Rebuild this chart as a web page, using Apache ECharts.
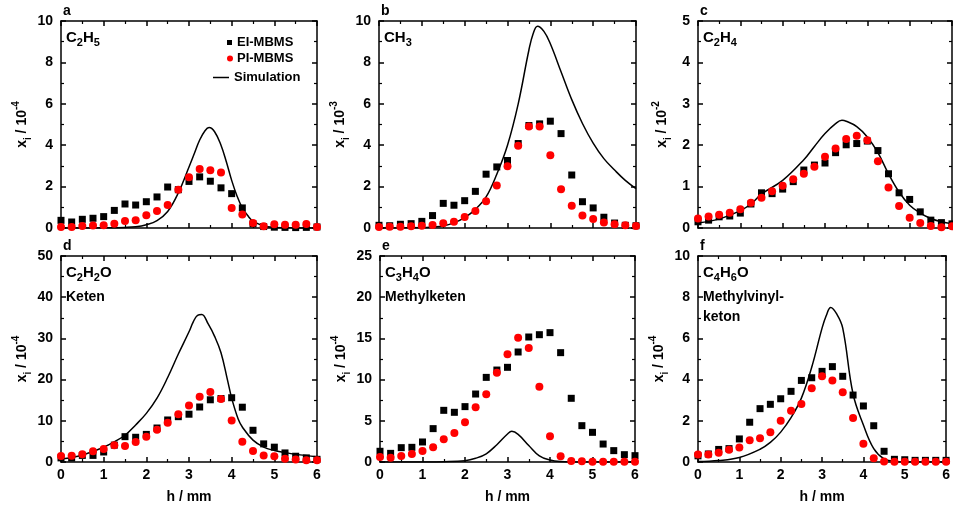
<!DOCTYPE html>
<html>
<head>
<meta charset="utf-8">
<script src="https://cdn.jsdelivr.net/npm/echarts@6/dist/echarts.min.js"></script>
<style>
  html, body { margin: 0; padding: 0; background: #fff; }
  #chart { width: 953px; height: 508px; }
</style>
</head>
<body>
<div id="chart"></div>
<script>
// Height above burner h / mm for the measured profiles
const hPos = [0, 0.25, 0.5, 0.75, 1, 1.25, 1.5, 1.75, 2, 2.25, 2.5, 2.75, 3,
              3.25, 3.5, 3.75, 4, 4.25, 4.5, 4.75, 5, 5.25, 5.5, 5.75, 6];

// C2H5 (x 1e-4)
const eiC2H5 = [0.37, 0.29, 0.42, 0.47, 0.55, 0.85, 1.16, 1.11, 1.27, 1.50, 1.98, 1.85, 2.25,
                2.47, 2.26, 1.94, 1.66, 0.97, 0.20, 0.07, 0.04, 0.03, 0.02, 0.03, 0.05];
const piC2H5 = [0.05, 0.05, 0.10, 0.12, 0.13, 0.21, 0.34, 0.37, 0.61, 0.82, 1.11, 1.85, 2.45,
                2.85, 2.79, 2.68, 0.97, 0.65, 0.24, 0.08, 0.18, 0.16, 0.16, 0.19, 0.05];
const simHC2H5 = [0, 0.5, 1, 1.5, 1.75, 2, 2.25, 2.5, 2.75, 3, 3.125, 3.25, 3.375, 3.47, 3.6,
                  3.75, 3.875, 4, 4.125, 4.25, 4.375, 4.5, 4.75, 5, 5.5, 6];
const simC2H5 = [0, 0.002, 0.01, 0.03, 0.06, 0.16, 0.36, 0.8, 1.7, 2.95, 3.6, 4.25, 4.7, 4.85, 4.65,
                 4.0, 3.2, 2.3, 1.55, 0.97, 0.6, 0.33, 0.1, 0.03, 0.005, 0];

// CH3 (x 1e-3)
const eiCH3 = [0.13, 0.11, 0.18, 0.21, 0.32, 0.60, 1.19, 1.10, 1.32, 1.77, 2.60, 2.95, 3.26,
               4.08, 4.95, 5.03, 5.16, 4.56, 2.56, 1.27, 0.97, 0.52, 0.24, 0.13, 0.11];
const piCH3 = [0.05, 0.06, 0.06, 0.08, 0.11, 0.15, 0.23, 0.30, 0.53, 0.82, 1.29, 2.05, 2.98,
               3.97, 4.90, 4.90, 3.52, 1.87, 1.08, 0.60, 0.44, 0.27, 0.18, 0.13, 0.10];
const simHCH3 = [0, 0.5, 1, 1.25, 1.5, 1.75, 2, 2.25, 2.5, 2.75, 3, 3.25, 3.5, 3.6, 3.7, 3.85,
                 4, 4.25, 4.5, 4.75, 5, 5.25, 5.5, 5.75, 6];
const simCH3 = [0, 0.005, 0.02, 0.05, 0.1, 0.25, 0.5, 0.9, 1.5, 2.6, 4.0, 6.0, 8.6, 9.4, 9.75, 9.5,
                8.9, 7.55, 6.2, 5.05, 4.1, 3.35, 2.8, 2.3, 1.9];

// C2H4 (x 1e-2)
const eiC2H4 = [0.15, 0.19, 0.27, 0.29, 0.36, 0.58, 0.85, 0.83, 0.94, 1.12, 1.40, 1.52, 1.57,
                1.82, 2.01, 2.04, 2.10, 1.87, 1.31, 0.85, 0.69, 0.39, 0.19, 0.13, 0.10];
const piC2H4 = [0.23, 0.28, 0.32, 0.37, 0.45, 0.61, 0.73, 0.89, 1.02, 1.18, 1.31, 1.48, 1.72,
                1.92, 2.15, 2.23, 2.12, 1.61, 0.98, 0.53, 0.25, 0.12, 0.05, 0.02, 0.04];
const simHC2H4 = [0, 0.5, 1, 1.25, 1.5, 2, 2.5, 2.75, 3, 3.25, 3.4, 3.5, 3.75, 4, 4.25, 4.5,
                  4.75, 5, 5.25, 5.5, 5.75, 6];
const simC2H4 = [0.12, 0.22, 0.42, 0.58, 0.82, 1.15, 1.65, 1.97, 2.28, 2.52, 2.6, 2.58, 2.45,
                 2.2, 1.82, 1.31, 0.87, 0.55, 0.36, 0.23, 0.15, 0.1];

// C2H2O, Keten (x 1e-4)
const eiC2H2O = [1.0, 0.97, 1.6, 1.6, 2.43, 4.1, 6.15, 6.0, 6.7, 8.25, 10.2, 11.0, 11.6,
                 13.35, 15.1, 15.4, 15.6, 13.3, 7.7, 4.4, 3.6, 2.2, 1.4, 1.0, 0.65];
const piC2H2O = [1.46, 1.5, 1.9, 2.6, 3.15, 4.05, 3.9, 4.85, 6.1, 7.8, 9.55, 11.6, 13.7,
                 15.85, 17.0, 15.3, 10.1, 4.9, 2.7, 1.6, 1.4, 0.8, 0.6, 0.4, 0.4];
const simHC2H2O = [0, 0.5, 1, 1.25, 1.5, 1.75, 2, 2.25, 2.5, 2.75, 3, 3.1, 3.2, 3.3, 3.45, 3.6,
                   3.75, 3.9, 4, 4.15, 4.25, 4.5, 4.75, 5, 5.25, 5.5, 6];
const simC2H2O = [0.7, 1.7, 3.6, 4.9, 6.5, 9.0, 11.8, 15.5, 20.5, 26.2, 31.6, 34.0, 35.6, 35.8,
                  33.5, 30.5, 26.5, 20.0, 15.5, 10.5, 8.5, 5.3, 3.6, 2.8, 2.3, 1.85, 1.3];

// C3H4O, Methylketen (x 1e-4)
const eiC3H4O = [1.3, 1.05, 1.74, 1.78, 2.43, 4.05, 6.27, 6.03, 6.72, 8.25, 10.27, 11.16, 11.49,
                 13.35, 15.17, 15.45, 15.7, 13.27, 7.73, 4.41, 3.6, 2.18, 1.38, 0.89, 0.77];
const piC3H4O = [0.6, 0.53, 0.73, 0.97, 1.33, 1.78, 2.75, 3.52, 4.81, 6.63, 8.21, 10.84, 13.07,
                 15.09, 13.83, 9.14, 3.11, 0.69, 0.12, 0.08, 0.04, 0.04, 0.04, 0.04, 0.04];
const simHC3H4O = [0, 1, 1.5, 2, 2.25, 2.5, 2.75, 3, 3.1, 3.25, 3.5, 3.75, 4, 4.25, 4.5, 5, 6];
const simC3H4O = [0, 0.01, 0.04, 0.16, 0.45, 1.0, 2.1, 3.4, 3.72, 3.36, 2.0, 0.73, 0.24, 0.05,
                  0.01, 0, 0];

// C4H6O, Methylvinylketon (x 1e-4)
const eiC4H6O = [0.30, 0.39, 0.61, 0.65, 1.12, 1.93, 2.59, 2.80, 3.07, 3.43, 3.96, 4.09, 4.40,
                 4.63, 4.16, 3.25, 2.72, 1.76, 0.52, 0.13, 0.11, 0.08, 0.08, 0.08, 0.08];
const piC4H6O = [0.36, 0.36, 0.45, 0.60, 0.70, 1.05, 1.15, 1.44, 2.00, 2.49, 2.82, 3.58, 4.16,
                 3.96, 3.38, 2.14, 0.89, 0.18, 0.02, 0.01, 0.01, 0.01, 0.01, 0.01, 0.01];
const simHC4H6O = [0, 0.5, 1, 1.5, 1.75, 2, 2.25, 2.5, 2.75, 3, 3.1, 3.21, 3.35, 3.5, 3.75, 4,
                   4.25, 4.5, 4.75, 5, 6];
const simC4H6O = [0.02, 0.07, 0.22, 0.62, 0.95, 1.45, 2.15, 3.1, 4.6, 6.5, 7.1, 7.5, 7.2, 6.5,
                  3.3, 1.8, 0.65, 0.15, 0.03, 0, 0];

// Axis ranges and exponents
const yMax = [10, 10, 5, 50, 25, 10];
const yExp = ['-4', '-3', '-2', '-4', '-4', '-4'];
const panelLetters = ['a', 'b', 'c', 'd', 'e', 'f'];

const panels = [
  { ei: eiC2H5, pi: piC2H5, simH: simHC2H5, sim: simC2H5,
    formula: '{m|C}{s|2}{m|H}{s|5}', names: [] },
  { ei: eiCH3, pi: piCH3, simH: simHCH3, sim: simCH3,
    formula: '{m|CH}{s|3}', names: [] },
  { ei: eiC2H4, pi: piC2H4, simH: simHC2H4, sim: simC2H4,
    formula: '{m|C}{s|2}{m|H}{s|4}', names: [] },
  { ei: eiC2H2O, pi: piC2H2O, simH: simHC2H2O, sim: simC2H2O,
    formula: '{m|C}{s|2}{m|H}{s|2}{m|O}', names: ['Keten'] },
  { ei: eiC3H4O, pi: piC3H4O, simH: simHC3H4O, sim: simC3H4O,
    formula: '{m|C}{s|3}{m|H}{s|4}{m|O}', names: ['Methylketen'] },
  { ei: eiC4H6O, pi: piC4H6O, simH: simHC4H6O, sim: simC4H6O,
    formula: '{m|C}{s|4}{m|H}{s|6}{m|O}', names: ['Methylvinyl-', 'keton'] }
];

// Plot boxes
const boxes = [
  { left: 61, top: 21, width: 256, height: 207 },
  { left: 379, top: 21, width: 257, height: 207 },
  { left: 698, top: 21, width: 254, height: 207 },
  { left: 61, top: 256, width: 256, height: 206 },
  { left: 380, top: 256, width: 255, height: 206 },
  { left: 698, top: 256, width: 254, height: 206 }
];

const FONT = '"Liberation Sans", Arial, sans-serif';
const lineStyle = { color: '#000', width: 1.5 };

const grid = [], xAxis = [], yAxis = [], series = [], graphic = [];

panels.forEach((p, i) => {
  const b = boxes[i];
  const bottomRow = i >= 3;
  grid.push({ left: b.left, top: b.top, width: b.width, height: b.height, containLabel: false });

  const xBase = {
    type: 'value', gridIndex: i, min: 0, max: 6, interval: 1,
    axisLine: { show: true, onZero: false, lineStyle },
    axisTick: { show: true, inside: true, length: 5, lineStyle },
    minorTick: { show: true, splitNumber: 2, length: 3, lineStyle: { color: '#000', width: 1.2 } },
    splitLine: { show: false }
  };
  xAxis.push(Object.assign({}, xBase, {
    position: 'bottom',
    axisLabel: { show: bottomRow, margin: 6, color: '#000', fontFamily: FONT, fontWeight: 'bold', fontSize: 14 },
    name: bottomRow ? 'h / mm' : '',
    nameLocation: 'middle', nameGap: 28,
    nameTextStyle: { color: '#000', fontFamily: FONT, fontWeight: 'bold', fontSize: 14 }
  }));
  xAxis.push(Object.assign({}, xBase, { position: 'top', axisLabel: { show: false } }));

  const yBase = {
    type: 'value', gridIndex: i, min: 0, max: yMax[i], interval: yMax[i] / 5,
    axisLine: { show: true, onZero: false, lineStyle },
    axisTick: { show: true, inside: true, length: 5, lineStyle },
    minorTick: { show: true, splitNumber: 2, length: 3, lineStyle: { color: '#000', width: 1.2 } },
    splitLine: { show: false }
  };
  yAxis.push(Object.assign({}, yBase, {
    position: 'left',
    axisLabel: { margin: 8, color: '#000', fontFamily: FONT, fontWeight: 'bold', fontSize: 14 },
    name: '{t|x}{s|i}{t| / 10}{p|' + yExp[i] + '}',
    nameLocation: 'middle', nameGap: 25, nameRotate: 90,
    nameTextStyle: {
      color: '#000', fontFamily: FONT, fontWeight: 'bold', fontSize: 14,
      rich: {
        t: { fontFamily: FONT, fontWeight: 'bold', fontSize: 14, lineHeight: 22, verticalAlign: 'middle', color: '#000' },
        s: { fontFamily: FONT, fontWeight: 'bold', fontSize: 10, lineHeight: 10, verticalAlign: 'bottom', color: '#000' },
        p: { fontFamily: FONT, fontWeight: 'bold', fontSize: 10, lineHeight: 10, verticalAlign: 'top', color: '#000' }
      }
    }
  }));
  yAxis.push(Object.assign({}, yBase, { position: 'right', axisLabel: { show: false } }));

  const xi = i * 2, yi = i * 2;
  series.push({
    name: 'Simulation', type: 'line', xAxisIndex: xi, yAxisIndex: yi,
    data: p.simH.map((h, k) => [h, p.sim[k]]),
    smooth: 0.4, showSymbol: false, symbol: 'none',
    lineStyle: { color: '#000', width: 1.5 }, itemStyle: { color: '#000' },
    z: 2, silent: true
  });
  series.push({
    name: 'EI-MBMS', type: 'scatter', xAxisIndex: xi, yAxisIndex: yi,
    data: hPos.map((h, k) => [h, p.ei[k]]),
    symbol: 'rect', symbolSize: 7, itemStyle: { color: '#000', opacity: 1 },
    z: 3
  });
  series.push({
    name: 'PI-MBMS', type: 'scatter', xAxisIndex: xi, yAxisIndex: yi,
    data: hPos.map((h, k) => [h, p.pi[k]]),
    symbol: 'circle', symbolSize: 8, itemStyle: { color: '#ff0000', opacity: 1 },
    z: 4
  });

  // Panel letter above the box
  graphic.push({
    type: 'text', left: b.left + 2, top: b.top - 17,
    style: { text: panelLetters[i], fill: '#000', font: 'bold 14px ' + FONT }
  });
  // Species formula and name inside the box
  graphic.push({
    type: 'text', left: b.left + 5, top: b.top + 9,
    style: {
      text: p.formula, fill: '#000', font: 'bold 15px ' + FONT,
      rich: {
        m: { fontFamily: FONT, fontWeight: 'bold', fontSize: 15, lineHeight: 22, verticalAlign: 'middle', fill: '#000' },
        s: { fontFamily: FONT, fontWeight: 'bold', fontSize: 11, lineHeight: 11, verticalAlign: 'bottom', fill: '#000' }
      }
    }
  });
  p.names.forEach((n, k) => {
    graphic.push({
      type: 'text', left: b.left + 5, top: b.top + 34 + k * 20,
      style: { text: n, fill: '#000', font: 'bold 14px ' + FONT }
    });
  });
});

// Legend entries: symbols sit just left of their text, the line is longer
const legendText = { color: '#000', fontFamily: FONT, fontWeight: 'bold', fontSize: 13 };
const legend = [
  { data: [{ name: 'EI-MBMS', icon: 'rect' }], left: 227, top: 36, padding: 0,
    itemWidth: 5, itemHeight: 5, textStyle: legendText, selectedMode: false },
  { data: [{ name: 'PI-MBMS', icon: 'circle' }], left: 227, top: 52, padding: 0,
    itemWidth: 6, itemHeight: 6, textStyle: Object.assign({ padding: [0, 0, 0, -1] }, legendText), selectedMode: false },
  { data: [{ name: 'Simulation', icon: 'path://M0,0H16V1.5H0Z' }], left: 213, top: 71, padding: 0,
    itemWidth: 16, itemHeight: 2, textStyle: legendText, selectedMode: false }
];

const option = {
  backgroundColor: '#fff',
  animation: false,
  grid, xAxis, yAxis, series, graphic, legend
};

const chart = echarts.init(document.getElementById('chart'), null, { renderer: 'canvas' });
chart.setOption(option);
</script>
</body>
</html>
